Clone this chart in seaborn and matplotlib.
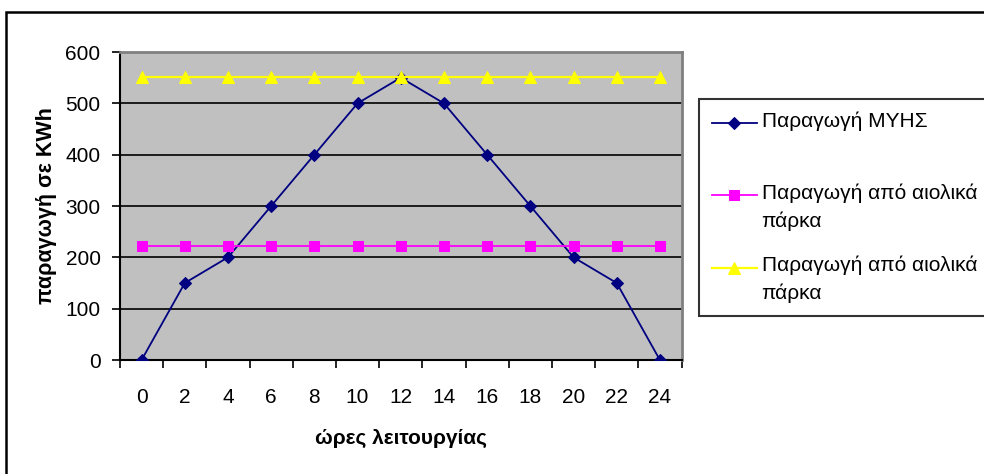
import matplotlib
matplotlib.use("Agg")
import matplotlib.pyplot as plt
from matplotlib.patches import Rectangle
from matplotlib.legend_handler import HandlerLine2D
import seaborn as sns
import pandas as pd

hours = [0, 2, 4, 6, 8, 10, 12, 14, 16, 18, 20, 22, 24]
myhs = [0, 150, 200, 300, 400, 500, 550, 500, 400, 300, 200, 150, 0]
wind_a = [222] * 13
wind_b = [552] * 13
series_names = ["Παραγωγή ΜΥΗΣ", "Παραγωγή από αιολικά\nπάρκα", "Παραγωγή από αιολικά\nπάρκα"]
y_ticks = [0, 100, 200, 300, 400, 500, 600]
x_label = "ώρες λειτουργίας"
y_label = "παραγωγή σε KWh"

plt.rcParams["font.family"] = ["Liberation Sans", "DejaVu Sans"]

W, H = 984, 474
fig = plt.figure(figsize=(W / 100, H / 100), dpi=100)
fig.patch.set_facecolor("white")
ax = fig.add_axes([120 / W, 1 - 360 / H, (681.5 - 120) / W, (360 - 52) / H])
ax.set_facecolor("#C0C0C0")

df = pd.DataFrame({"h": hours, "a": myhs, "b": wind_a, "c": wind_b})
styles = [
    ("a", "#000080", "D", 6.5, 1.3),
    ("b", "#FF00FF", "s", 7, 1.3),
    ("c", "#FFFF00", "^", 8.5, 1.6),
]
for (col, color, mk, ms, lw), name in zip(styles, series_names):
    sns.lineplot(data=df, x="h", y=col, ax=ax, color=color, marker=mk,
                 markersize=ms, markeredgecolor=color, linewidth=lw,
                 label=name, zorder=3)

ax.set_xlim(-1, 25)
ax.set_ylim(0, 600)
ax.set_xticks(hours)
ax.set_xticks([h + 1 for h in [-2] + hours], minor=True)
ax.tick_params(axis="x", which="major", length=0, pad=20, labelsize=15)
ax.tick_params(axis="x", which="minor", length=6, width=1.2, direction="out", color="black")
ax.set_yticks(y_ticks)
ax.tick_params(axis="y", which="major", length=6, width=1.2, pad=8, labelsize=15, direction="out")
ax.yaxis.grid(True, color="black", linewidth=1.2)
ax.set_axisbelow(True)
for s in ["top", "right"]:
    ax.spines[s].set_color("#808080")
    ax.spines[s].set_linewidth(2)
for s in ["left", "bottom"]:
    ax.spines[s].set_color("black")
    ax.spines[s].set_linewidth(1.5)

ax.set_xlabel(x_label, fontsize=15, fontweight="bold")
ax.set_ylabel(y_label, fontsize=15.5, fontweight="bold")
ax.xaxis.set_label_coords(0.5, (360 - 429) / 308)
ax.yaxis.set_label_coords((57 - 120) / 561.5, 0.5)


class FirstLineHandler(HandlerLine2D):
    def __init__(self, shift, **kw):
        super().__init__(**kw)
        self.shift = shift

    def create_artists(self, legend, orig_handle, xdescent, ydescent, width,
                       height, fontsize, trans):
        return super().create_artists(legend, orig_handle, xdescent,
                                      ydescent - self.shift * fontsize,
                                      width, height, fontsize, trans)


handles, _ = ax.get_legend_handles_labels()
leg_labels = [n if "\n" in n else n + "\n" for n in series_names]
hmap = {h: FirstLineHandler(1.15) for h in handles}
leg = fig.legend(handles, leg_labels, loc="upper left",
                 bbox_to_anchor=(699 / W, 1 - 99 / H), bbox_transform=fig.transFigure,
                 frameon=True, fancybox=False, shadow=False, fontsize=15,
                 handlelength=2.2, handletextpad=0.2, labelspacing=1.2,
                 borderpad=0.6, borderaxespad=0, handler_map=hmap)
leg.get_frame().set_edgecolor("black")
leg.get_frame().set_linewidth(1.5)
for t in leg.get_texts():
    t.set_linespacing(1.55)
if ax.get_legend() is not None:
    ax.get_legend().remove()

fig.add_artist(Rectangle((5.5 / W, -0.2), 1.2, 1.2 - 12 / H, transform=fig.transFigure,
                         fill=False, edgecolor="black", linewidth=1.8))

fig.savefig("out.png", dpi=100)
